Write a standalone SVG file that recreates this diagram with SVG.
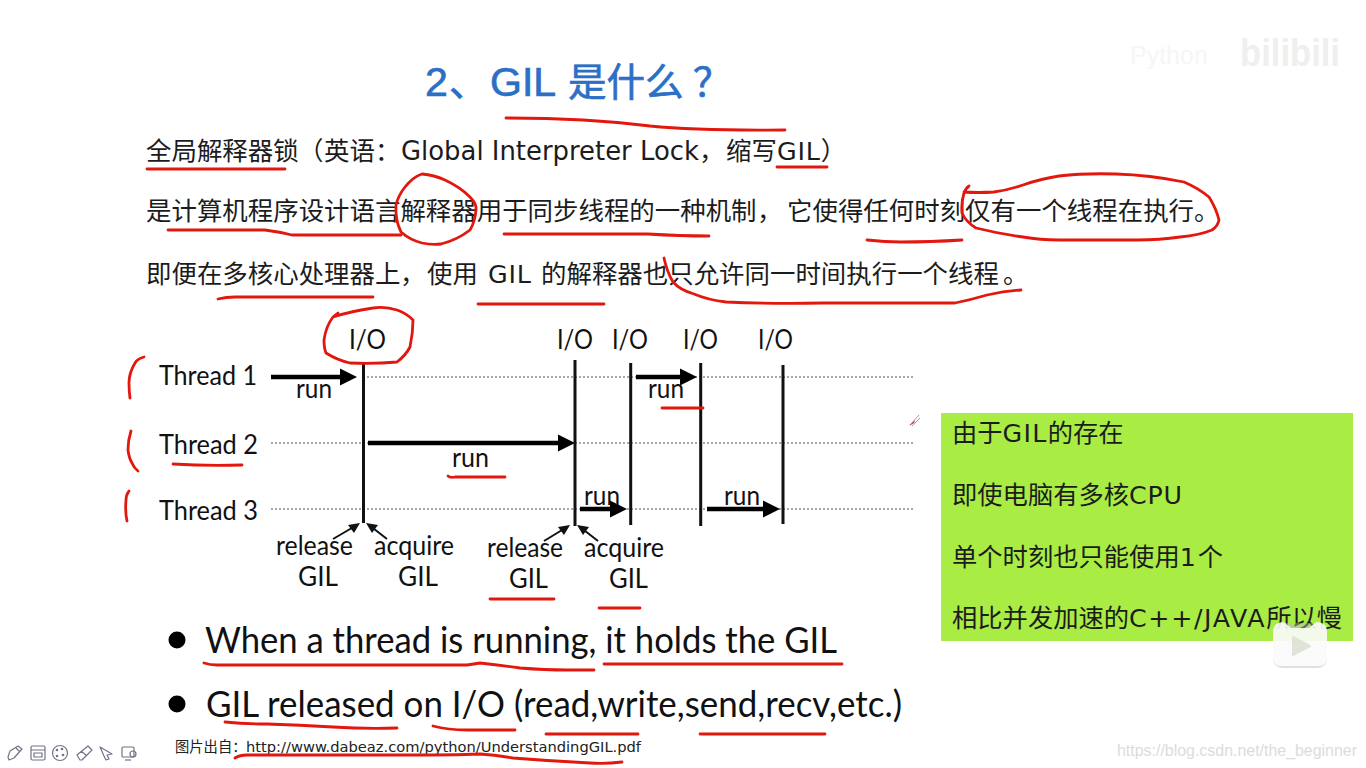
<svg xmlns="http://www.w3.org/2000/svg" width="1366" height="768" viewBox="0 0 1366 768">
<style>
.body{font-family:"DejaVu Sans","Noto Sans CJK SC",sans-serif;font-size:25.45px;fill:#1c1c1c}
.note{font-size:25.3px}
.gill{font-family:"Lato","Liberation Sans",sans-serif;fill:#111;font-size:27px}
.big{font-size:36px}
.red{fill:none;stroke:#e2170d;stroke-width:2.8;stroke-linecap:round;stroke-linejoin:round}
.dot{stroke:#555;stroke-width:1.2;stroke-dasharray:2 2;fill:none}
.bar{stroke:#111;stroke-width:3;fill:none}
.run{stroke:#000;stroke-width:4.5;fill:none}
.thin{stroke:#111;stroke-width:2;fill:none}
.ico{fill:none;stroke:#6f7587;stroke-width:1.2;stroke-linejoin:round}
</style>
<rect width="1366" height="768" fill="#fff"/>
<g id="watermark" font-family="'Liberation Sans',sans-serif">
<text x="1130" y="64" font-size="25" fill="#f6f6f6">Python</text>
<text x="1240" y="66" font-size="38" font-weight="700" fill="#efefef" textLength="100" lengthAdjust="spacingAndGlyphs">bilibili</text>
</g>
<g id="title"><text y="96" font-family="'Liberation Sans','Noto Sans CJK SC',sans-serif" font-size="38.500" fill="#2b6fc6" stroke="#2b6fc6" stroke-width="0.7"><tspan x="425" font-size="41">2</tspan><tspan x="449">、</tspan><tspan x="490" font-size="41">GIL</tspan><tspan x="568">是什么</tspan><tspan x="693">？</tspan></text></g>
<g id="definition">
<text class="body" x="146" y="160">全局解释器锁<tspan x="298">（</tspan><tspan x="324">英语：</tspan><tspan x="401" font-size="25.900">Global Interpreter Lock</tspan><tspan x="699">，</tspan><tspan x="726">缩写</tspan><tspan x="777" letter-spacing="0.800">GIL</tspan>）</text>
<text class="body" x="146" y="220">是计算机程序设计语言解释器用于同步线程的一种机制<tspan x="757">，</tspan><tspan x="787">它使得任何时刻仅有一个线程在执行</tspan><tspan x="1194">。</tspan></text>
<text class="body" x="146" y="283">即便在多核心处理器上<tspan x="400">，</tspan><tspan x="427">使用</tspan><tspan x="488" letter-spacing="0.800">GIL</tspan><tspan x="541">的解释器也只允许同一时间执行一个线程</tspan><tspan x="1003">。</tspan></text>
</g>
<defs>
<path id="head" d="M0 0L-17 -8.500V8.500Z" fill="#000"/>
</defs>
<g id="connectors">
<path class="dot" d="M271 443H363M363 377H913M363 443H913M271 509H913"/>
<path class="bar" d="M363.500 362V523M575 360V526M630.700 363V525M700.700 363V526M783 365V524"/>
<path class="run" d="M271 377H342M368 443H560M636 377H682M580 509H610M707 509H764"/>
<use href="#head" transform="translate(357 377)"/>
<use href="#head" transform="translate(575 443)"/>
<use href="#head" transform="translate(697 377)"/>
<use href="#head" transform="translate(627 509)"/>
<use href="#head" transform="translate(780 509)"/>
<path class="thin" d="M333 539L357 525M387 539L369 525M544 541L567 527M598 541L580 527"/>
<path d="M360 523L348 525L354 533Z M366 523L378 525L372 533Z M570 525L558 527L564 535Z M577 525L589 527L583 535Z" fill="#111"/>
</g>
<g id="thread-labels">
<text class="gill" x="159" y="385" textLength="98" lengthAdjust="spacingAndGlyphs">Thread 1</text>
<text class="gill" x="159" y="454" textLength="99" lengthAdjust="spacingAndGlyphs">Thread 2</text>
<text class="gill" x="159" y="520" textLength="99" lengthAdjust="spacingAndGlyphs">Thread 3</text>
</g>
<g id="io-labels">
<text class="gill" x="349" y="349" textLength="37" lengthAdjust="spacingAndGlyphs">I/O</text>
<text class="gill" x="557" y="349" textLength="36" lengthAdjust="spacingAndGlyphs">I/O</text>
<text class="gill" x="612" y="349" textLength="36" lengthAdjust="spacingAndGlyphs">I/O</text>
<text class="gill" x="683" y="349" textLength="35" lengthAdjust="spacingAndGlyphs">I/O</text>
<text class="gill" x="758" y="349" textLength="35" lengthAdjust="spacingAndGlyphs">I/O</text>
</g>
<g id="run-labels">
<text class="gill" x="296" y="398" textLength="36" lengthAdjust="spacingAndGlyphs">run</text>
<text class="gill" x="452" y="467" textLength="37" lengthAdjust="spacingAndGlyphs">run</text>
<text class="gill" x="648" y="398" textLength="36" lengthAdjust="spacingAndGlyphs">run</text>
<text class="gill" x="584" y="505" textLength="36" lengthAdjust="spacingAndGlyphs">run</text>
<text class="gill" x="724" y="505" textLength="36" lengthAdjust="spacingAndGlyphs">run</text>
</g>
<g id="gil-labels">
<text class="gill" x="276" y="555" textLength="77" lengthAdjust="spacingAndGlyphs">release</text>
<text class="gill" x="298" y="586" textLength="40" lengthAdjust="spacingAndGlyphs">GIL</text>
<text class="gill" x="374" y="555" textLength="80" lengthAdjust="spacingAndGlyphs">acquire</text>
<text class="gill" x="398" y="586" textLength="40" lengthAdjust="spacingAndGlyphs">GIL</text>
<text class="gill" x="487" y="557" textLength="76" lengthAdjust="spacingAndGlyphs">release</text>
<text class="gill" x="509" y="588" textLength="39" lengthAdjust="spacingAndGlyphs">GIL</text>
<text class="gill" x="584" y="557" textLength="80" lengthAdjust="spacingAndGlyphs">acquire</text>
<text class="gill" x="609" y="588" textLength="39" lengthAdjust="spacingAndGlyphs">GIL</text>
</g>
<g id="bullets">
<circle cx="177" cy="640" r="8.500" fill="#000"/>
<circle cx="177" cy="704" r="8.500" fill="#000"/>
<text class="gill big" x="205" y="653" textLength="632" lengthAdjust="spacingAndGlyphs">When a thread is running, it holds the GIL</text>
<text class="gill big" x="206" y="717" textLength="696" lengthAdjust="spacingAndGlyphs">GIL released on I/O (read,write,send,recv,etc.)</text>
</g>
<g id="source" font-family="'DejaVu Sans','Noto Sans CJK SC',sans-serif" font-size="14.300" fill="#222">
<text x="175" y="752">图片出自：</text>
<text x="246" y="752" textLength="395" lengthAdjust="spacingAndGlyphs">http://www.dabeaz.com/python/UnderstandingGIL.pdf</text>
</g>
<g id="note">
<rect x="941" y="413" width="412" height="228" fill="#a9ec44"/>
<text class="body note" x="952" y="442">由于<tspan letter-spacing="1.300">GIL</tspan>的存在</text>
<text class="body note" x="952" y="504">即使电脑有多核<tspan letter-spacing="0.700">CPU</tspan></text>
<text class="body note" x="952" y="566">单个时刻也只能使用<tspan letter-spacing="2">1</tspan>个</text>
<text class="body note" x="952" y="627">相比并发加速的<tspan letter-spacing="1.600">C++/JAVA</tspan>所以慢</text>
</g>
<g id="annotations">
<path class="red" d="M506 118C560 118 610 121 650 126C700 131 745 130 785 130"/>
<path class="red" d="M147 169H285"/>
<path class="red" d="M777 167H827"/>
<path class="red" d="M168 230H265Q280 232 292 235H401"/>
<path class="red" d="M401 232Q395 220 396 205Q398 196 405 187Q413 177 422 174Q434 175 445 180Q460 187 470 197Q477 204 476 210Q475 222 470 230Q457 240 441 244Q431 245 422 243Q410 240 401 232Z"/>
<path class="red" d="M504 234H648Q680 236 709 236"/>
<path class="red" d="M867 240Q885 242 901 242Q930 242 962 240"/>
<path class="red" d="M969 186Q966 188 964 193Q961 203 962 213Q966 222 976 228Q1000 234 1023 237Q1040 240 1059 240H1137Q1160 240 1180 237Q1200 235 1212 230Q1218 226 1219 220Q1216 208 1209 197Q1198 188 1184 182Q1150 175 1116 174Q1085 173 1059 176Q1040 179 1023 185Q1008 190 994 192Q978 193 964 192"/>
<path class="red" d="M218 299Q226 297 235 297H373"/>
<path class="red" d="M478 304H604"/>
<path class="red" d="M664 258Q667 272 673 282Q680 290 694 294Q708 300 726 302Q770 304 823 303H955Q970 300 987 295Q1005 291 1021 290"/>
<path class="red" d="M338 313L333 317Q326 326 324 340Q324 348 326 353Q337 360 350 363Q375 364 397 362Q406 355 410 347Q413 333 413 320Q406 313 397 310Q385 306 373 308Q352 311 333 317"/>
<path class="red" d="M144 357Q137 359 135 363Q129 373 129 383Q129 391 130 398"/>
<path class="red" d="M131 431Q128 440 128 450Q129 458 132 463Q134 468 138 471"/>
<path class="red" d="M129 491Q126 495 126 500Q125 512 127 521"/>
<path class="red" d="M173 464Q205 466 242 465"/>
<path class="red" d="M448 476Q450 478 455 477H505"/>
<path class="red" d="M662 408H703"/>
<path class="red" d="M490 599H554"/>
<path class="red" d="M599 608H640"/>
<path class="red" d="M204 663Q210 665 217 665H467Q474 664 480 663Q500 665 520 668Q545 670 567 670H594"/>
<path class="red" d="M604 664H842"/>
<path class="red" d="M225 722Q245 724 267 724Q300 725 333 727Q365 729 397 728"/>
<path class="red" d="M433 726Q448 730 467 730H515"/>
<path class="red" d="M546 734H638"/>
<path class="red" d="M700 734H825"/>
<path class="red" d="M235 758Q240 755 247 755H433Q457 755 480 754Q495 755 513 758Q550 761 590 763Q606 764 622 762"/>
</g>
<g id="toolbar">
<path class="ico" d="M8 757L10 751L18 746L22 749L14 758L9 760ZM16 748L20 752"/>
<rect class="ico" x="31" y="746" width="14" height="14" rx="1.500"/><path class="ico" d="M31 750H45M34 753H42V757H34Z"/>
<circle class="ico" cx="60" cy="753" r="7.500"/><circle cx="57" cy="750" r="1.300" fill="#6f7587"/><circle cx="62" cy="749" r="1.300" fill="#6f7587"/><circle cx="57" cy="756" r="1.300" fill="#6f7587"/><circle cx="63" cy="755" r="1.300" fill="#6f7587"/>
<path class="ico" d="M77 755L88 746L92 750L82 760H80ZM81 751L87 756"/>
<path class="ico" d="M100 747L112 754L107 755L109 759L106 760L104 756Z"/>
<rect class="ico" x="122" y="747" width="12" height="10" rx="1"/><path class="ico" d="M125 760H131"/><circle class="ico" cx="133" cy="754" r="3"/>
</g>
<g id="overlay">
<path d="M910 425L919 415M912 426L920 418" stroke="#888" stroke-width="0.800" fill="none"/>
<path d="M909 426L915 420L914 423Z" fill="#d8184a"/>
<rect x="1273" y="623" width="54" height="45" rx="9" fill="#bbb" fill-opacity="0.45"/>
<path d="M1284 622L1291 628H1309L1316 622Q1327 622 1327 632V657Q1327 666 1318 666H1282Q1273 666 1273 657V632Q1273 622 1284 622Z" fill="#fff" fill-opacity="0.85"/>
<path d="M1293 637L1310 646L1293 655Z" fill="#dfe3d8" stroke="#dfe3d8" stroke-width="2" stroke-linejoin="round"/>
<text x="1117" y="756" font-family="'Liberation Sans',sans-serif" font-size="16" fill="#dcdcdc" textLength="240" lengthAdjust="spacingAndGlyphs">https://blog.csdn.net/the_beginner</text>
</g>
</svg>
